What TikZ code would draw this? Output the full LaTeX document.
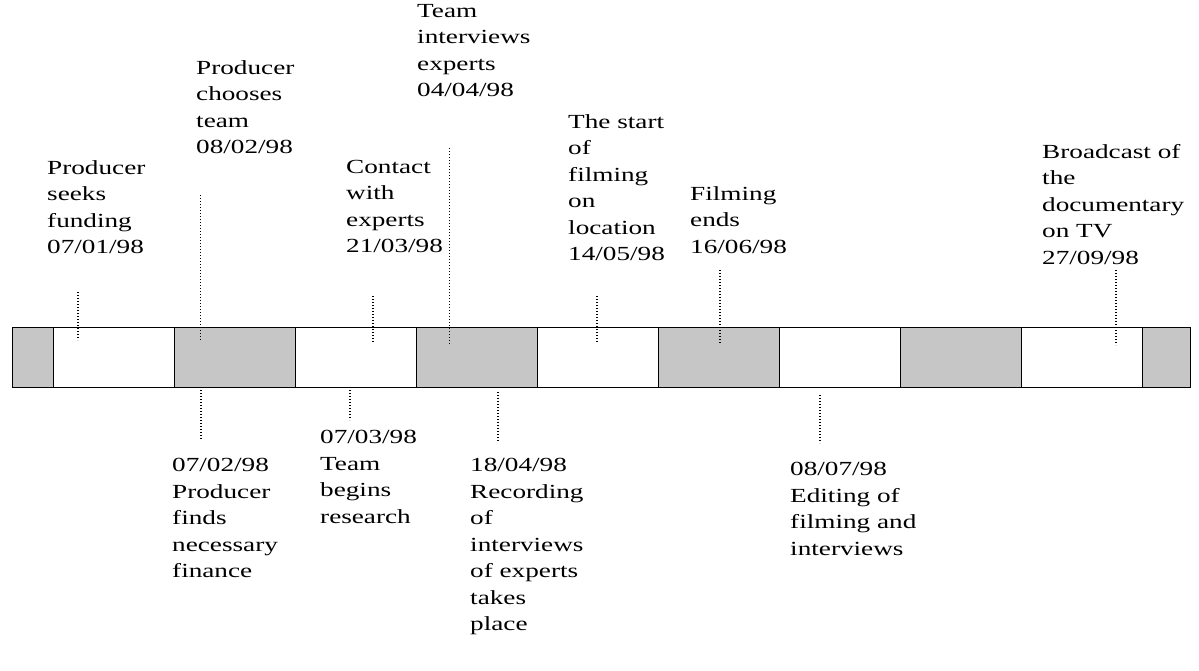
\documentclass[tikz,border=0pt]{standalone}
\usepackage{fontspec}
\setmainfont{Liberation Serif}[FakeStretch=1.36]
\usetikzlibrary{positioning}

\begin{document}
\begin{tikzpicture}[
    x=1pt, y=-1pt,
    label/.style={align=left, inner sep=0pt, font=\fontsize{20}{26.5}\selectfont},
    up/.style={label, anchor=north west},
    down/.style={label, anchor=north west},
    tick/.style={line width=2.2pt, dash pattern=on 1.2pt off 1.8pt},
    thin tick/.style={line width=0.6pt, dash pattern=on 1pt off 2pt},
    shaded/.style={draw=black, fill=gray!45},
    plain/.style={draw=black, fill=white}
]
\useasboundingbox (0,0) rectangle (1199,671);

% Time bar
\node[shaded, minimum width=41pt, minimum height=60pt, inner sep=0pt, anchor=north west] (s0) at (12,327) {};
\foreach \i/\s in {1/plain,2/shaded,3/plain,4/shaded,5/plain,6/shaded,7/plain,8/shaded,9/plain} {
  \pgfmathtruncatemacro{\xx}{53+121*(\i-1)}
  \node[\s, minimum width=121pt, minimum height=60pt, inner sep=0pt, anchor=north west] (s\i) at (\xx,327) {};
}
\node[shaded, minimum width=48pt, minimum height=60pt, inner sep=0pt, anchor=north west] (s10) at (1142,327) {};

% Events above the bar
\node[up] (funding) at (47,160) {Producer\\seeks\\funding\\07/01/98};
\node[up] (team) at (196,60) {Producer\\chooses\\team\\08/02/98};
\node[up] (contact) at (346,160) {Contact\\with\\experts\\21/03/98};
\node[up] (interviews) at (417,4) {Team\\interviews\\experts\\04/04/98};
\node[up] (start) at (568,114) {The start\\of\\filming\\on\\location\\14/05/98};
\node[up] (ends) at (690,186) {Filming\\ends\\16/06/98};
\node[up] (broadcast) at (1042,144) {Broadcast of\\the\\documentary\\on TV\\27/09/98};

% Events below the bar
\node[down] (finance) at (172,458) {07/02/98\\Producer\\finds\\necessary\\finance};
\node[down] (research) at (320,430) {07/03/98\\Team\\begins\\research};
\node[down] (recording) at (470,458) {18/04/98\\Recording\\of\\interviews\\of experts\\takes\\place};
\node[down] (editing) at (790,462) {08/07/98\\Editing of\\filming and\\interviews};

% Markers
\coordinate (m1) at (78,292);   \draw[tick] (m1) -- (78,340);
\coordinate (m2) at (200,195);  \draw[thin tick] (m2) -- (200,340);
\coordinate (m3) at (373,296);  \draw[tick] (m3) -- (373,342);
\coordinate (m4) at (449,148);  \draw[thin tick] (m4) -- (449,345);
\coordinate (m5) at (597,296);  \draw[tick] (m5) -- (597,343);
\coordinate (m6) at (720,270);  \draw[tick] (m6) -- (720,343);
\coordinate (m7) at (1116,270); \draw[tick] (m7) -- (1116,345);
\coordinate (n1) at (201,390);  \draw[tick] (n1) -- (201,440);
\coordinate (n2) at (350,390);  \draw[tick] (n2) -- (350,420);
\coordinate (n3) at (498,392);  \draw[tick] (n3) -- (498,442);
\coordinate (n4) at (820,395);  \draw[tick] (n4) -- (820,443);

\end{tikzpicture}
\end{document}
